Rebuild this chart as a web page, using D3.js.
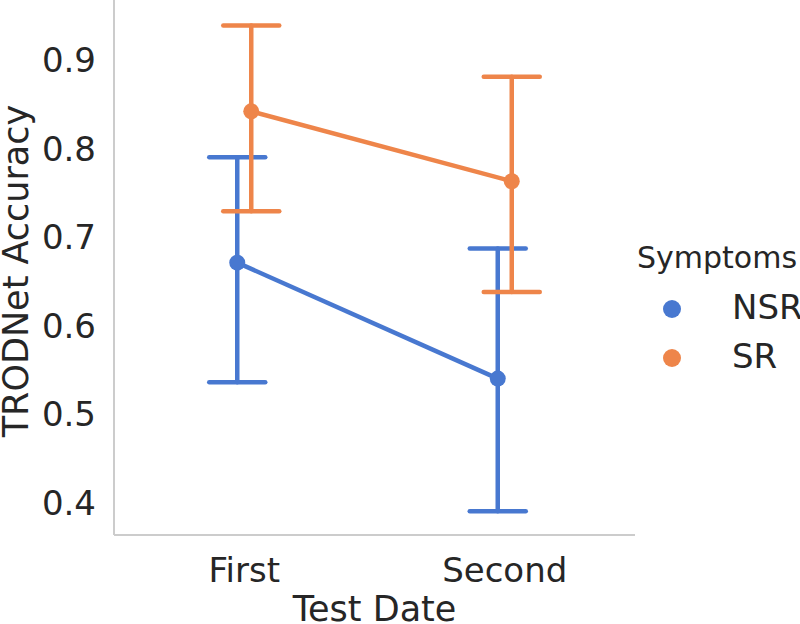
<!DOCTYPE html>
<html><head><meta charset="utf-8">
<script src="https://cdn.jsdelivr.net/npm/d3@7"></script>
<style>body{margin:0;background:#fff}text{font-family:"DejaVu Sans",sans-serif;fill:#262626}</style>
</head><body><svg id="c" width="800" height="624"></svg>
<script>
const categories = ["First", "Second"];
const seriesNames = ["NSR", "SR"];
const seriesColors = ["#4878d0", "#ee854a"];
const nsrMean = [0.671, 0.540];
const nsrLow = [0.536, 0.390];
const nsrHigh = [0.790, 0.687];
const srMean = [0.842, 0.763];
const srLow = [0.729, 0.638];
const srHigh = [0.939, 0.881];
const yTicks = [0.4, 0.5, 0.6, 0.7, 0.8, 0.9];
const xTitle = "Test Date", yTitle = "TRODNet Accuracy", legendTitle = "Symptoms";

const series = [
  {name: seriesNames[0], color: seriesColors[0], mean: nsrMean, low: nsrLow, high: nsrHigh, dodge: -7},
  {name: seriesNames[1], color: seriesColors[1], mean: srMean, low: srLow, high: srHigh, dodge: 7}
];

const svg = d3.select("#c");
const L = 114, R = 635, T = 0, B = 535;
const x = d3.scalePoint().domain(categories).range([L, R]).padding(0.5);
const y = d3.scaleLinear().domain([0.3633, 0.9678]).range([B, T]);

// spines
svg.append("line").attr("x1", L).attr("x2", L).attr("y1", T).attr("y2", B).attr("stroke", "#cccccc").attr("stroke-width", 2);
svg.append("line").attr("x1", L).attr("x2", R).attr("y1", B).attr("y2", B).attr("stroke", "#cccccc").attr("stroke-width", 2);

// y ticks
svg.selectAll(".yt").data(yTicks).enter().append("text")
  .attr("x", L - 18).attr("y", d => y(d)).attr("dy", "0.36em")
  .attr("text-anchor", "end").style("font-size", "34px").text(d => d.toFixed(1));
// x ticks
svg.selectAll(".xt").data(categories).enter().append("text")
  .attr("x", d => x(d)).attr("y", 582).attr("text-anchor", "middle").style("font-size", "34px").text(d => d);

svg.append("text").attr("x", (L + R) / 2).attr("y", 621).attr("text-anchor", "middle").style("font-size", "35px").text(xTitle);
svg.append("text").attr("transform", `translate(28,271) rotate(-90)`).attr("text-anchor", "middle").style("font-size", "35px").text(yTitle);

const cap = 28, sw = 4.5;
series.forEach(s => {
  const g = svg.append("g");
  categories.forEach((c, i) => {
    const cx = x(c) + s.dodge;
    g.append("line").attr("x1", cx).attr("x2", cx).attr("y1", y(s.low[i])).attr("y2", y(s.high[i]))
      .attr("stroke", s.color).attr("stroke-width", sw).attr("stroke-linecap", "round");
    [s.low[i], s.high[i]].forEach(v => {
      g.append("line").attr("x1", cx - cap).attr("x2", cx + cap).attr("y1", y(v)).attr("y2", y(v))
        .attr("stroke", s.color).attr("stroke-width", sw).attr("stroke-linecap", "round");
    });
  });
  const line = d3.line().x((d, i) => x(categories[i]) + s.dodge).y(d => y(d));
  g.append("path").attr("d", line(s.mean)).attr("fill", "none").attr("stroke", s.color).attr("stroke-width", sw);
  g.selectAll("circle").data(s.mean).enter().append("circle")
    .attr("cx", (d, i) => x(categories[i]) + s.dodge).attr("cy", d => y(d)).attr("r", 8).attr("fill", s.color);
});

// legend
svg.append("text").attr("x", 637).attr("y", 268).style("font-size", "30px").text(legendTitle);
series.forEach((s, i) => {
  const cy = 309 + i * 49;
  svg.append("circle").attr("cx", 672).attr("cy", cy).attr("r", 9).attr("fill", s.color);
  svg.append("text").attr("x", 732).attr("y", cy + 9.5).style("font-size", "34px").text(s.name);
});
</script></body></html>
